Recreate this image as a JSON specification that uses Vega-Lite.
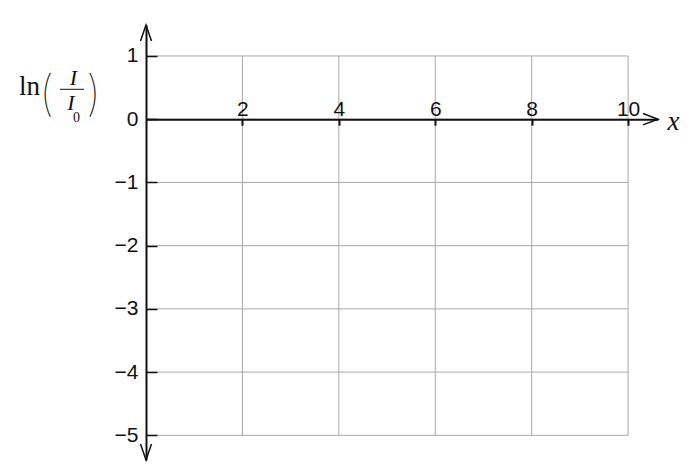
{
  "$schema": "https://vega.github.io/schema/vega-lite/v6.json",
  "autosize": "none",
  "width": 512,
  "height": 435,
  "padding": {"left": 146, "top": 25, "right": 30, "bottom": 5},
  "background": "white",
  "config": {"view": {"stroke": null}},
  "datasets": {
    "grid": [
      {"x": 0, "x2": 10, "y": 1, "y2": 1},
      {"x": 0, "x2": 10, "y": 0, "y2": 0},
      {"x": 0, "x2": 10, "y": -1, "y2": -1},
      {"x": 0, "x2": 10, "y": -2, "y2": -2},
      {"x": 0, "x2": 10, "y": -3, "y2": -3},
      {"x": 0, "x2": 10, "y": -4, "y2": -4},
      {"x": 0, "x2": 10, "y": -5, "y2": -5},
      {"x": 2, "x2": 2, "y": -5, "y2": 1},
      {"x": 4, "x2": 4, "y": -5, "y2": 1},
      {"x": 6, "x2": 6, "y": -5, "y2": 1},
      {"x": 8, "x2": 8, "y": -5, "y2": 1},
      {"x": 10, "x2": 10, "y": -5, "y2": 1}
    ],
    "arrows": [
      {"x": 0, "y": 1.49, "dir": "up"},
      {"x": 0, "y": -5.39, "dir": "down"},
      {"x": 10.62, "y": 0, "dir": "right"}
    ],
    "label": [
      {"x": -2.635, "y": 0.382, "t": "ln", "part": "ln"},
      {"x": -2.064, "y": 0.145, "t": "(", "part": "paren"},
      {"x": -1.089, "y": 0.145, "t": ")", "part": "paren"},
      {"x": -1.504, "y": 0.541, "t": "I", "part": "ital"},
      {"x": -1.556, "y": 0.145, "t": "I", "part": "ital"},
      {"x": -1.44, "y": -0.045, "t": "0", "part": "sub"}
    ],
    "bar": [
      {"x": -1.784, "x2": -1.286, "y": 0.473}
    ]
  },
  "encoding": {
    "x": {
      "field": "x",
      "type": "quantitative",
      "scale": {"domain": [0, 10.62], "nice": false, "zero": false},
      "axis": {
        "orient": "top",
        "offset": -94.21,
        "values": [2, 4, 6, 8, 10],
        "format": "d",
        "grid": false,
        "domainColor": "#111",
        "domainWidth": 2,
        "tickColor": "#111",
        "tickWidth": 2,
        "tickSize": -6,
        "labelPadding": 10,
        "labelFont": "Liberation Sans",
        "labelFontSize": 21,
        "labelColor": "#111",
        "labelBaseline": "alphabetic",
        "labelFlush": false,
        "labelOverlap": false,
        "title": "x",
        "titleFont": "Liberation Serif",
        "titleFontStyle": "italic",
        "titleFontWeight": "normal",
        "titleFontSize": 27,
        "titleColor": "#111",
        "titleAngle": 0,
        "titleX": 527,
        "titleY": 10,
        "titleAlign": "center",
        "titleBaseline": "alphabetic",
        "zindex": 2
      }
    },
    "y": {
      "field": "y",
      "type": "quantitative",
      "scale": {"domain": [-5.39, 1.49], "nice": false, "zero": false},
      "axis": {
        "orient": "left",
        "values": [-5, -4, -3, -2, -1, 0, 1],
        "format": "d",
        "grid": false,
        "domainColor": "#111",
        "domainWidth": 2,
        "tickColor": "#111",
        "tickWidth": 1.5,
        "tickSize": -11,
        "labelPadding": 19,
        "labelFont": "Liberation Sans",
        "labelFontSize": 21,
        "labelColor": "#111",
        "labelFlush": false,
        "labelOverlap": false,
        "title": null,
        "zindex": 2
      }
    }
  },
  "layer": [
    {
      "data": {"name": "grid"},
      "mark": {"type": "rule", "color": "#a8a8a8", "strokeWidth": 1},
      "encoding": {
        "x2": {"field": "x2"},
        "y2": {"field": "y2"}
      }
    },
    {
      "data": {"name": "arrows"},
      "mark": {"type": "point", "filled": false, "size": 4, "strokeWidth": 1.5, "color": "#111", "opacity": 1},
      "encoding": {
        "shape": {
          "field": "dir",
          "type": "nominal",
          "scale": {
            "domain": ["up", "down", "right"],
            "range": ["M -5.5 16 L 0 0 L 5.5 16", "M -5.5 -16 L 0 0 L 5.5 -16", "M -15 -5.7 L 0 0 L -15 5.7"]
          },
          "legend": null
        }
      }
    },
    {
      "data": {"name": "bar"},
      "mark": {"type": "rule", "color": "#111", "strokeWidth": 1},
      "encoding": {
        "x2": {"field": "x2"}
      }
    },
    {
      "data": {"name": "label"},
      "transform": [{"filter": "datum.part == 'ln'"}],
      "mark": {"type": "text", "font": "Liberation Serif", "fontSize": 27, "align": "left", "baseline": "alphabetic", "color": "#111"},
      "encoding": {
        "text": {"field": "t"}
      }
    },
    {
      "data": {"name": "label"},
      "transform": [{"filter": "datum.part == 'paren'"}],
      "mark": {"type": "text", "font": "Inter", "fontWeight": 100, "fontSize": 48, "align": "center", "baseline": "alphabetic", "color": "#111"},
      "encoding": {
        "text": {"field": "t"}
      }
    },
    {
      "data": {"name": "label"},
      "transform": [{"filter": "datum.part == 'ital'"}],
      "mark": {"type": "text", "font": "Liberation Serif", "fontStyle": "italic", "fontSize": 22, "align": "center", "baseline": "alphabetic", "color": "#111"},
      "encoding": {
        "text": {"field": "t"}
      }
    },
    {
      "data": {"name": "label"},
      "transform": [{"filter": "datum.part == 'sub'"}],
      "mark": {"type": "text", "font": "Liberation Serif", "fontSize": 14, "align": "center", "baseline": "alphabetic", "color": "#111"},
      "encoding": {
        "text": {"field": "t"}
      }
    }
  ]
}
